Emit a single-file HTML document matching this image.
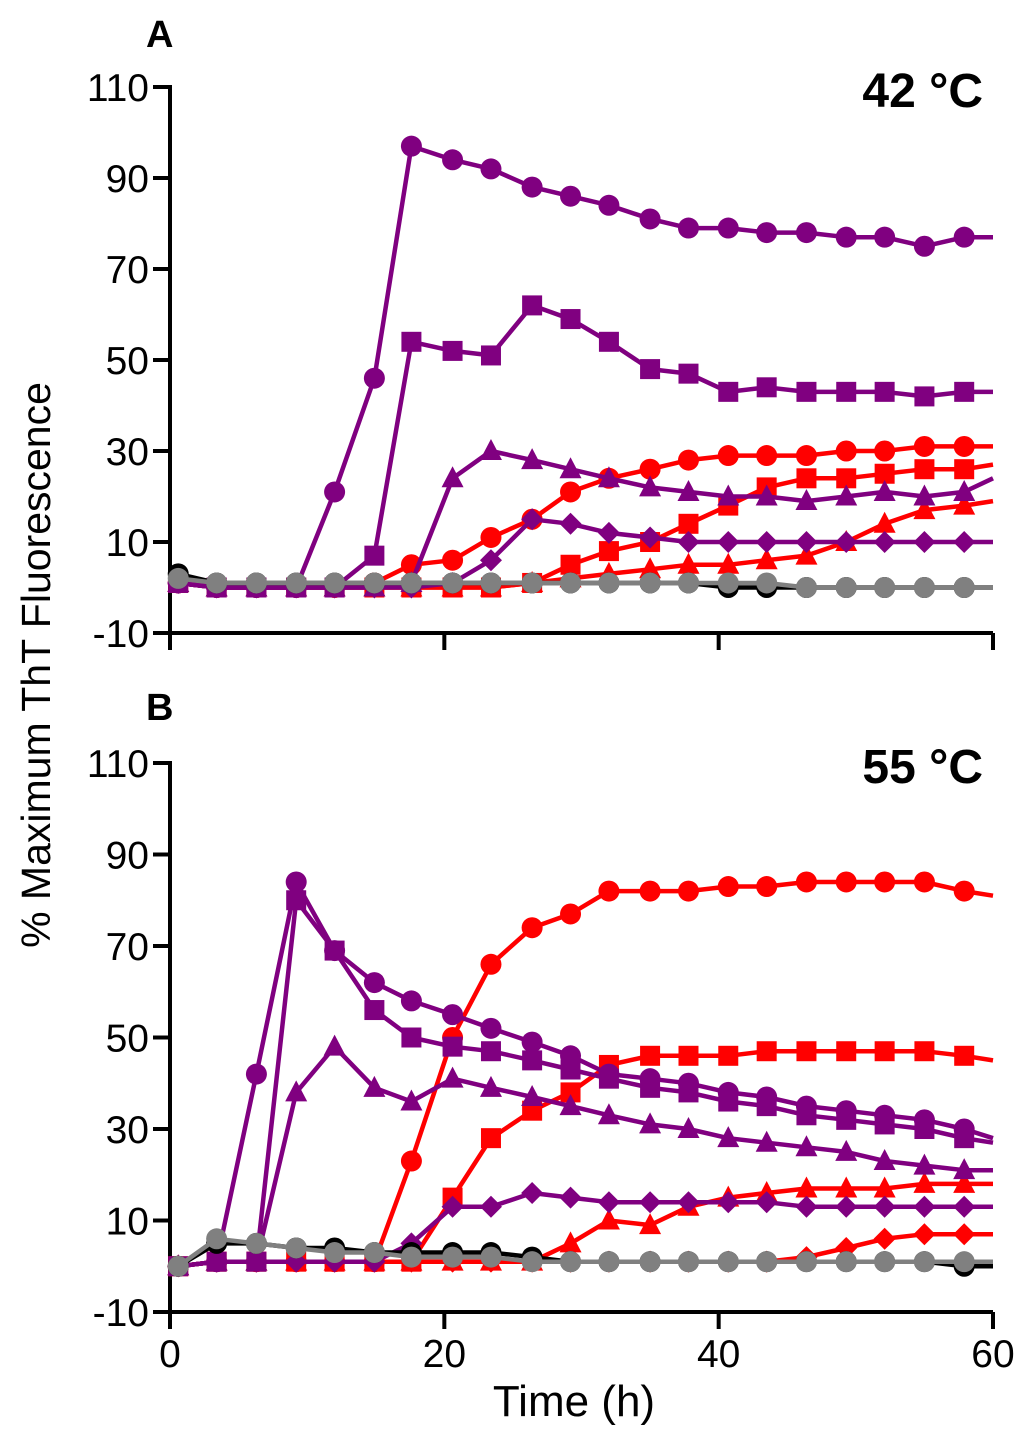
<!DOCTYPE html>
<html><head><meta charset="utf-8"><style>
html,body{margin:0;padding:0;background:#fff;}
svg{display:block;font-family:"Liberation Sans",Arial,sans-serif;}
</style></head><body>
<svg id="chart" width="1024" height="1437" viewBox="0 0 1024 1437" xmlns="http://www.w3.org/2000/svg">
<text x="146" y="47" font-size="38" font-weight="bold">A</text>
<text x="146" y="720" font-size="38" font-weight="bold">B</text>
<text x="983" y="107" font-size="48" font-weight="bold" text-anchor="end">42 °C</text>
<text x="983" y="783" font-size="48" font-weight="bold" text-anchor="end">55 °C</text>
<text transform="translate(50,665) rotate(-90)" font-size="41" text-anchor="middle">% Maximum ThT Fluorescence</text>
<text x="574" y="1416" font-size="44" text-anchor="middle">Time (h)</text>
<g id="plots"></g>
</svg>
<script>
const times = [0.6,3.4,6.3,9.2,12,14.9,17.6,20.6,23.4,26.4,29.2,32,35,37.8,40.7,43.5,46.4,49.3,52.1,55,57.9,60];
const yTicks = [110,90,70,50,30,10,-10];
const xTicks = [0,20,40,60];
// Panel A series (last value = line end at 60 h, no marker)
const aPurpleCircle = [1,0,0,0,21,46,97,94,92,88,86,84,81,79,79,78,78,77,77,75,77,77];
const aPurpleSquare = [1,0,0,0,0,7,54,52,51,62,59,54,48,47,43,44,43,43,43,42,43,43];
const aPurpleTriangle = [1,0,0,0,0,0,1,24,30,28,26,24,22,21,20,20,19,20,21,20,21,24];
const aPurpleDiamond = [1,0,0,0,0,0,0,1,6,15,14,12,11,10,10,10,10,10,10,10,10,10];
const aRedCircle = [1,0,0,0,0,1,5,6,11,15,21,24,26,28,29,29,29,30,30,31,31,31];
const aRedSquare = [1,0,0,0,0,0,0,0,0,1,5,8,10,14,18,22,24,24,25,26,26,27];
const aRedTriangle = [1,0,0,0,0,0,0,0,0,1,2,3,4,5,5,6,7,10,14,17,18,19];
const aBlack = [3,1,1,1,1,1,1,1,1,1,1,1,1,1,0,0,0,0,0,0,0,0];
const aGray = [2,1,1,1,1,1,1,1,1,1,1,1,1,1,1,1,0,0,0,0,0,0];
// Panel B series
const bPurpleCircle = [0,1,42,84,69,62,58,55,52,49,46,42,41,40,38,37,35,34,33,32,30,28];
const bPurpleSquare = [0,1,1,80,69,56,50,48,47,45,43,41,39,38,36,35,33,32,31,30,28,27];
const bPurpleTriangle = [0,1,1,38,48,39,36,41,39,37,35,33,31,30,28,27,26,25,23,22,21,21];
const bPurpleDiamond = [0,1,1,1,1,1,5,13,13,16,15,14,14,14,14,14,13,13,13,13,13,13];
const bRedCircle = [0,1,1,1,1,1,23,50,66,74,77,82,82,82,83,83,84,84,84,84,82,81];
const bRedSquare = [0,1,1,1,1,1,1,15,28,34,38,44,46,46,46,47,47,47,47,47,46,45];
const bRedTriangle = [0,1,1,1,1,1,1,1,1,1,5,10,9,13,15,16,17,17,17,18,18,18];
const bRedDiamond = [0,1,1,1,1,1,1,1,1,1,1,1,1,1,1,1,2,4,6,7,7,7];
const bBlack = [0,5,5,4,4,3,3,3,3,2,1,1,1,1,1,1,1,1,1,1,0,0];
const bGray = [0,6,5,4,3,3,2,2,2,1,1,1,1,1,1,1,1,1,1,1,1,1];

const P='#800080',R='#ff0000',K='#000000',G='#808080';
const NS='http://www.w3.org/2000/svg';
const root=document.getElementById('plots');
function mk(tag,attrs,parent){const e=document.createElementNS(NS,tag);for(const k in attrs)e.setAttribute(k,attrs[k]);parent.appendChild(e);return e;}
const xs=t=>170+t*(823/60);

function panel(id,yTop,yBot,series,showX){
  const g=mk('g',{},root);
  
  
  const ys=v=>yTop+(110-v)*(yBot-yTop)/120;
  const ax=mk('path',{d:`M170 ${yTop-2} V${yBot} H993`,fill:'none',stroke:'#000','stroke-width':4},g);
  
  
  yTicks.forEach(v=>{
    const tk=mk('line',{x1:153,x2:170,y1:ys(v),y2:ys(v),stroke:'#000','stroke-width':4},g);
    
    
    const tl=mk('text',{x:149,y:ys(v)+14,'font-size':39,'text-anchor':'end'},g);
    tl.textContent=v;
    
    
  });
  xTicks.forEach(v=>{
    const tk=mk('line',{x1:xs(v),x2:xs(v),y1:yBot,y2:yBot+17,stroke:'#000','stroke-width':4},g);
    
    
    if(showX){
      const tl=mk('text',{x:xs(v),y:yBot+55,'font-size':39,'text-anchor':'middle'},g);
      tl.textContent=v;
      
      
    }
  });
  series.forEach(([name,vals,col,shape])=>{
    const sg=mk('g',{},g);
    
    
    const pts=vals.map((v,i)=>xs(times[i]).toFixed(1)+','+ys(v).toFixed(1)).join(' ');
    mk('polyline',{points:pts,fill:'none',stroke:col,'stroke-width':4.5,'stroke-linejoin':'round'},sg);
    vals.forEach((v,i)=>{
      if(i===vals.length-1)return;
      const x=xs(times[i]),y=ys(v);let m;
      if(shape==='c')m=mk('circle',{cx:x,cy:y,r:10.5,fill:col},sg);
      else if(shape==='s')m=mk('rect',{x:x-10,y:y-10,width:20,height:20,fill:col},sg);
      else if(shape==='t')m=mk('polygon',{points:`${x},${y-12} ${x+11},${y+9} ${x-11},${y+9}`,fill:col},sg);
      else m=mk('polygon',{points:`${x},${y-11} ${x+11},${y} ${x},${y+11} ${x-11},${y}`,fill:col},sg);
      
      
    });
  });
}
panel('panel-a',87,633,[
 ['red-triangle-a',aRedTriangle,R,'t'],['red-square-a',aRedSquare,R,'s'],['red-circle-a',aRedCircle,R,'c'],
 ['purple-diamond-a',aPurpleDiamond,P,'d'],['purple-triangle-a',aPurpleTriangle,P,'t'],['purple-square-a',aPurpleSquare,P,'s'],['purple-circle-a',aPurpleCircle,P,'c'],
 ['black-circle-a',aBlack,K,'c'],['gray-circle-a',aGray,G,'c']],false);
panel('panel-b',763,1312,[
 ['red-diamond-b',bRedDiamond,R,'d'],['red-triangle-b',bRedTriangle,R,'t'],['red-square-b',bRedSquare,R,'s'],['red-circle-b',bRedCircle,R,'c'],
 ['purple-diamond-b',bPurpleDiamond,P,'d'],['purple-triangle-b',bPurpleTriangle,P,'t'],['purple-square-b',bPurpleSquare,P,'s'],['purple-circle-b',bPurpleCircle,P,'c'],
 ['black-circle-b',bBlack,K,'c'],['gray-circle-b',bGray,G,'c']],true);
</script>
</body></html>
